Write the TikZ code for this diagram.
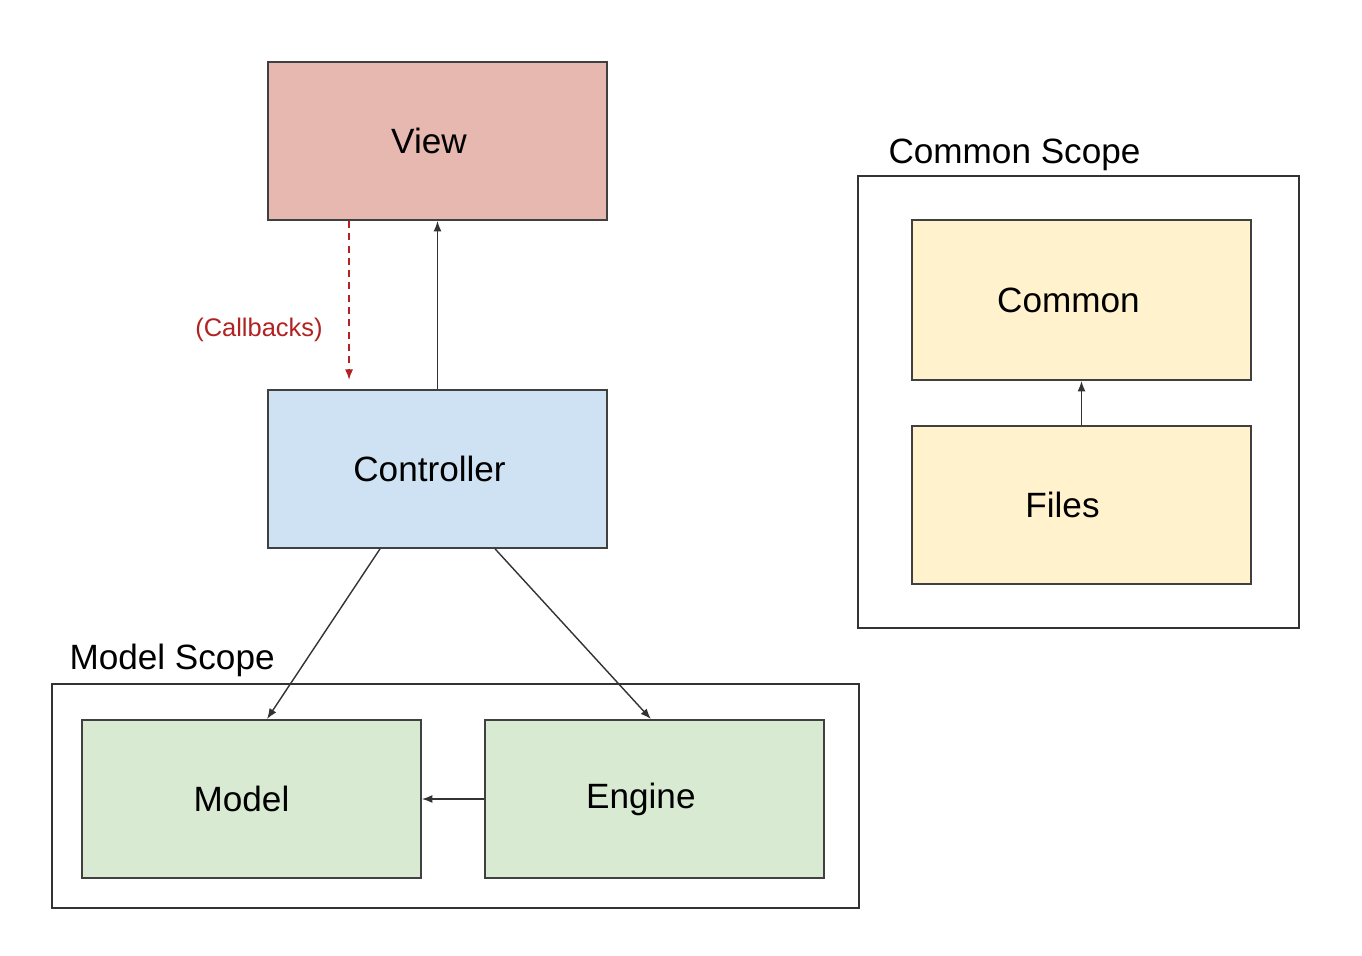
\documentclass[tikz,border=0pt]{standalone}
\usepackage{fontspec}
\setmainfont{Liberation Sans}
\usetikzlibrary{arrows.meta,positioning,calc}
\definecolor{viewred}{HTML}{E6B8AF}
\definecolor{ctrlblue}{HTML}{CFE2F3}
\definecolor{modelgreen}{HTML}{D9EAD3}
\definecolor{commonyellow}{HTML}{FFF2CC}
\definecolor{cbred}{HTML}{B22222}
\tikzset{
  block/.style = {rectangle, draw=black!75, line width=1.1pt, minimum width=6.78cm,
    minimum height=3.16cm, inner sep=0pt, font=\fontsize{20}{24}\selectfont},
  nudge/.style = {execute at end node={\hspace*{#1}}},
  scopebox/.style = {rectangle, draw=black!80, line width=1pt, inner sep=0pt},
  scopelabel/.style = {anchor=base west, inner sep=0pt, font=\fontsize{20}{24}\selectfont},
  arrow/.style = {draw=black!80, line width=0.8pt, -{Latex[length=2.1mm,width=1.6mm]}},
  callback/.style = {draw=cbred, line width=0.8pt, dash pattern=on 4pt off 3pt,
    -{Latex[length=2.1mm,width=1.6mm]}}
}
\begin{document}
\begin{tikzpicture}[x=0.02cm, y=-0.02cm]
\useasboundingbox[fill=white] (0,0) rectangle (1362,956);

% scopes
\node[scopebox, minimum width=16.14cm, minimum height=4.48cm] (modelscope) at (455.5,796) {};
\node[scopebox, minimum width=8.82cm, minimum height=9.04cm] (commonscope) at (1078.5,402) {};
\node[scopelabel] (modellabel) at ($(modelscope.north west)+(18,-14)$) {Model Scope};
\node[scopelabel] (commonlabel) at ($(commonscope.north west)+(31,-12)$) {Common Scope};

% main blocks
\node[block, fill=viewred, nudge=0.34cm] (view) at (437.5,141) {View};
\node[block, fill=ctrlblue, nudge=0.32cm, below=3.36cm of view] (ctrl) {Controller};
\node[block, fill=modelgreen, nudge=0.4cm] (model) at (251.5,799) {Model};
\node[block, fill=modelgreen, nudge=0.54cm, right=1.24cm of model] (engine) {Engine};
\node[block, fill=commonyellow, nudge=0.52cm, minimum height=3.2cm] (common) at (1081.5,300) {Common};
\node[block, fill=commonyellow, nudge=0.76cm, below=0.88cm of common] (files) {Files};

% connections
\draw[arrow] (ctrl.north) -- (view.south);
\draw[callback] ([xshift=1.64cm]view.south west) -- ([xshift=1.64cm, yshift=0.18cm]ctrl.north west);
\node[text=cbred, font=\fontsize{14.5}{17}\selectfont] (cblabel) at (259,330) {(Callbacks)};
\draw[arrow] ([xshift=2.26cm]ctrl.south west) -- ([xshift=3.72cm]model.north west);
\draw[arrow] ([xshift=4.56cm]ctrl.south west) -- ([xshift=3.34cm]engine.north west);
\draw[arrow] (engine.west) -- (model.east);
\draw[arrow] (files.north) -- (common.south);

\end{tikzpicture}
\end{document}
